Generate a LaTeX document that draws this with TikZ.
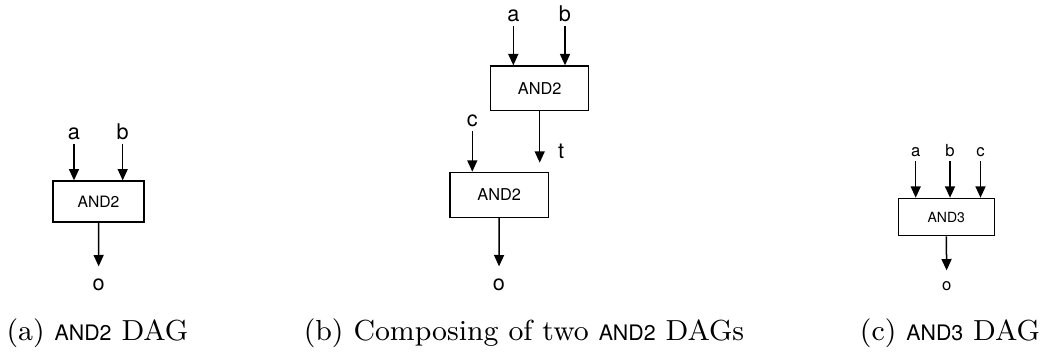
\documentclass[tikz,border=0pt]{standalone}
\usepackage{fontspec}
\setsansfont{TeX Gyre Heros}
\usetikzlibrary{positioning,arrows.meta}

\newcommand{\gatename}[1]{{\sffamily\fontsize{6.4}{7}\selectfont #1}}

\begin{document}
\begin{tikzpicture}[x=0.3pt, y=-0.3pt,
  gate/.style={draw, line width=0.4pt, inner sep=0pt},
  lbl/.style={anchor=base, inner sep=1pt, font=\sffamily\fontsize{6.5}{7}\selectfont},
  wire/.style={line width=0.45pt, -{Triangle[length=3.4pt, width=3pt]}},
  captxt/.style={anchor=base, inner sep=0pt, font=\fontsize{8.7}{11}\selectfont}]
  \useasboundingbox (0,0) rectangle (1044,352);

  % (a) single AND2
  \node[gate, minimum width=27.3pt, minimum height=12.3pt, font=\sffamily\fontsize{4.7}{5}\selectfont] (g_a) at (98.5,201.5) {AND2};
  \node[lbl] (a_a) at (74,139.5) {a};
  \node[lbl] (b_a) at (122.7,139.5) {b};
  \node[lbl] (o_a) at (98.7,290) {o};
  \draw[wire] (a_a.south) -- (a_a.south |- g_a.north);
  \draw[wire] (b_a.south) -- (b_a.south |- g_a.north);
  \draw[wire, shorten >=2.4pt] (g_a.south) -- (o_a.north);
  \node[captxt] (cap_a) at (97.5,340) {(a) \gatename{AND2} DAG};

  % (b) two AND2 in a chain
  \node[gate, minimum width=29.4pt, minimum height=13.4pt, font=\sffamily\fontsize{4.9}{5}\selectfont] (g_b1) at (539.7,88.3) {AND2};
  \node[gate, minimum width=29.5pt, minimum height=13.5pt, font=\sffamily\fontsize{4.9}{5}\selectfont] (g_b2) at (499.2,194.8) {AND2};
  \node[lbl] (a_b) at (513.3,21.7) {a};
  \node[lbl] (b_b) at (565,21.7) {b};
  \node[lbl] (c_b) at (472.3,126.7) {c};
  \node[lbl] (o_b) at (499,290) {o};
  \draw[wire] (a_b.south) -- (a_b.south |- g_b1.north);
  \draw[wire] (b_b.south) -- (b_b.south |- g_b1.north);
  \draw[wire] (c_b.south) -- (c_b.south |- g_b2.north);
  \draw[wire, shorten >=2.7pt] (g_b1.south) -- (g_b1.south |- g_b2.north)
    node[pos=.67, anchor=west, xshift=5.3pt, inner sep=0pt, font=\sffamily\fontsize{6.5}{7}\selectfont] (t_b) {t};
  \draw[wire, shorten >=2.4pt] (g_b2.south) -- (o_b.north);
  \node[captxt] (cap_b) at (524,340) {(b) Composing of two \gatename{AND2} DAGs};

  % (c) single AND3
  \node[gate, minimum width=28.8pt, minimum height=11.2pt, font=\sffamily\fontsize{4.2}{5}\selectfont] (g_c) at (946.3,217) {AND3};
  \node[lbl, font=\sffamily\fontsize{5}{5}\selectfont] (a_c) at (915.7,156.7) {a};
  \node[lbl, font=\sffamily\fontsize{5}{5}\selectfont] (b_c) at (950,156.7) {b};
  \node[lbl, font=\sffamily\fontsize{5}{5}\selectfont] (c_c) at (980.5,156.7) {c};
  \node[lbl, font=\sffamily\fontsize{5}{5}\selectfont] (o_c) at (946.7,290) {o};
  \draw[wire] (a_c.south) -- (a_c.south |- g_c.north);
  \draw[wire] (b_c.south) -- (b_c.south |- g_c.north);
  \draw[wire] (c_c.south) -- (c_c.south |- g_c.north);
  \draw[wire, shorten >=2pt] (g_c.south) -- (o_c.north);
  \node[captxt] (cap_c) at (950,340) {(c) \gatename{AND3} DAG};
\end{tikzpicture}
\end{document}
